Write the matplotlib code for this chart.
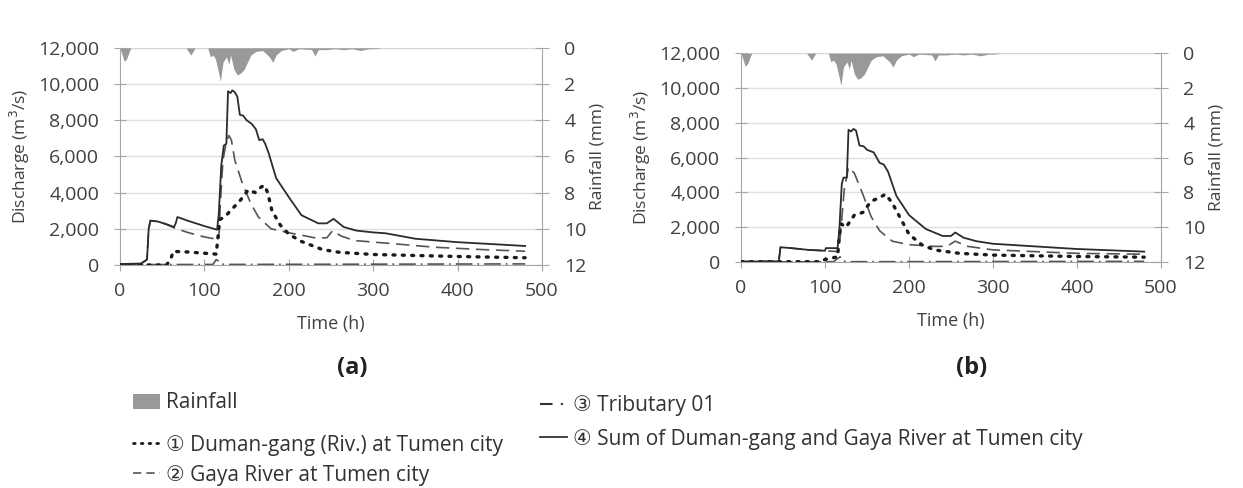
import matplotlib
matplotlib.use("Agg")
import matplotlib.pyplot as plt
from matplotlib.lines import Line2D
from matplotlib.patches import Patch

plt.rcParams["font.family"] = ["Open Sans", "DejaVu Sans"]
plt.rcParams["text.color"] = "#404040"

# rainfall (mm), same for both panels
rain_t = [0, 2, 5, 8, 11, 13, 78, 84, 89, 104, 107, 110, 113, 116, 119, 122, 126, 129, 131,
          135, 139, 143, 147, 151, 155, 161, 169, 177, 181, 185, 191, 200, 205, 212, 227, 231,
          235, 245, 255, 265, 275, 285, 295, 301, 310]
rain_mm = [0, 0.3, 0.75, 0.6, 0.2, 0, 0, 0.4, 0, 0, 0.5, 0.4, 0.6, 1.2, 1.85, 0.8, 0.5, 0.9, 0.4,
           1.2, 1.5, 1.4, 1.2, 0.8, 0.4, 0.2, 0.15, 0.5, 0.8, 0.4, 0.15, 0.05, 0.2, 0.05, 0.1, 0.45,
           0.1, 0.1, 0.05, 0.1, 0.05, 0.15, 0.05, 0.05, 0]

# (a) discharge series, m3/s
a_sum_t = [0, 25, 32, 34, 36, 45, 55, 64, 66, 68, 80, 100, 115, 117, 120, 123, 126, 128, 131, 133,
           136, 139, 142, 146, 150, 156, 161, 165, 169, 172, 176, 185, 200, 215, 235, 245, 253,
           265, 280, 300, 315, 350, 400, 450, 480]
a_sum = [50, 80, 300, 2000, 2450, 2400, 2250, 2100, 2300, 2650, 2450, 2150, 1950, 2800, 5500,
         6600, 6700, 9600, 9500, 9650, 9550, 9300, 8300, 8250, 8000, 7800, 7500, 6900, 6950, 6700,
         6200, 4800, 3750, 2750, 2300, 2300, 2550, 2100, 1900, 1800, 1750, 1450, 1260, 1130, 1050]
a_gaya_t = [0, 25, 32, 34, 36, 45, 55, 64, 80, 100, 117, 119, 122, 126, 129, 132, 136, 145, 155,
            164, 179, 198, 231, 245, 252, 262, 278, 325, 373, 430, 480]
a_gaya = [50, 80, 300, 2000, 2450, 2400, 2250, 2050, 1800, 1550, 1400, 3500, 5800, 6800, 7150,
          6900, 5800, 4500, 3400, 2650, 2000, 1800, 1500, 1500, 1900, 1600, 1350, 1170, 980, 850, 760]
a_duman_t = [0, 55, 60, 63, 80, 100, 114, 116, 118, 125, 135, 143, 152, 160, 167, 171, 175, 180,
             190, 200, 215, 240, 260, 300, 400, 480]
a_duman = [0, 0, 300, 750, 720, 650, 600, 1500, 2500, 2700, 3200, 3600, 4150, 4000, 4300, 4400,
           4000, 3000, 2200, 1700, 1300, 850, 700, 580, 470, 400]
a_trib_t = [0, 110, 114, 117, 120, 125, 480]
a_trib = [20, 30, 300, 200, 60, 30, 60]

# (b) discharge series, m3/s
b_sum_t = [0, 45, 47, 60, 80, 100, 101, 115, 117, 120, 122, 126, 128, 131, 134, 137, 141, 146,
           150, 158, 165, 170, 175, 185, 200, 220, 240, 250, 255, 265, 280, 300, 350, 400, 480]
b_sum = [30, 40, 850, 800, 700, 650, 800, 800, 1800, 4500, 4850, 4850, 7600, 7500, 7650, 7550,
         6700, 6650, 6450, 6300, 5700, 5600, 5200, 3800, 2700, 1900, 1500, 1500, 1700, 1400, 1200,
         1050, 900, 750, 600]
b_gaya_t = [0, 45, 47, 60, 80, 100, 115, 117, 120, 123, 128, 135, 145, 155, 165, 180, 200, 230,
            245, 255, 270, 300, 400, 480]
b_gaya = [30, 40, 850, 800, 700, 650, 600, 900, 2500, 4200, 5450, 5100, 3900, 2600, 1800, 1200,
          1000, 900, 900, 1200, 900, 700, 500, 450]
b_duman_t = [0, 95, 100, 110, 115, 117, 119, 125, 135, 145, 155, 165, 172, 180, 190, 200, 215,
             230, 260, 300, 400, 480]
b_duman = [20, 20, 150, 250, 300, 1500, 2200, 2000, 2700, 2850, 3500, 3700, 3900, 3400, 2500,
           1600, 1000, 700, 500, 400, 320, 280]
b_trib_t = [0, 110, 115, 118, 121, 126, 480]
b_trib = [10, 20, 200, 300, 80, 20, 40]

panels = [
    ("(a)", a_sum_t, a_sum, a_gaya_t, a_gaya, a_duman_t, a_duman, a_trib_t, a_trib),
    ("(b)", b_sum_t, b_sum, b_gaya_t, b_gaya, b_duman_t, b_duman, b_trib_t, b_trib),
]
boxes = [[120 / 1243, 0.457, 422 / 1243, 0.445], [741 / 1243, 0.463, 420 / 1243, 0.428]]

W, H = 1243, 488
fig = plt.figure(figsize=(W / 100, H / 100), dpi=100)

spine_c = "#a6a6a6"
grid_c = "#e0e0e0"
txt_c = "#404040"
dots = (0, (0.6, 2.2))
dashdot = (0, (10, 3, 1, 3))

for (lab, st, sv, gt, gv, dt, dv, tt, tv), box in zip(panels, boxes):
    ax = fig.add_axes(box)
    ax.plot(st, sv, color="#2b2b2b", lw=1.3, zorder=5)
    ax.plot(gt, gv, color="#555555", lw=1.2, ls=(0, (8, 4)), zorder=4)
    ax.plot(dt, dv, color="#1a1a1a", lw=2.4, ls=dots, dash_capstyle="round", zorder=4)
    ax.plot(tt, tv, color="#555555", lw=1.2, ls=dashdot, zorder=3)
    ax.set_xlim(0, 500)
    ax.set_ylim(0, 12000)
    ax.set_xticks(range(0, 501, 100))
    ax.set_yticks(range(0, 12001, 2000))
    ax.set_yticklabels([f"{v:,}" for v in range(0, 12001, 2000)])
    ax.yaxis.grid(True, color=grid_c, lw=1)
    ax.set_axisbelow(True)
    for s in ["top", "right"]:
        ax.spines[s].set_visible(False)
    for s in ["left", "bottom"]:
        ax.spines[s].set_color(spine_c)
    ax.tick_params(axis="both", colors=spine_c, labelcolor=txt_c, labelsize=14,
                   direction="inout", length=8)
    ax.tick_params(axis="x", pad=8)
    ax.tick_params(axis="y", pad=11)
    ax.set_xlabel("Time (h)", fontsize=13, color=txt_c, labelpad=11)
    ax.set_ylabel("Discharge (m$^3$/s)", fontsize=12.5, color=txt_c, labelpad=4)

    ax2 = ax.twinx()
    ax2.fill_between(rain_t, 0, rain_mm, color="#999999", lw=0, zorder=2)
    ax2.set_ylim(12, 0)
    ax2.set_yticks(range(0, 13, 2))
    for s in ["top", "left", "bottom"]:
        ax2.spines[s].set_visible(False)
    ax2.spines["right"].set_color(spine_c)
    ax2.tick_params(axis="y", colors=spine_c, labelcolor=txt_c, labelsize=14,
                    direction="inout", length=10, pad=11)
    ax2.set_ylabel("Rainfall (mm)", fontsize=12.5, color=txt_c, labelpad=2)
    ax2.axhline(0, color="#d0d0d0", lw=1, ls=(0, (1, 1)), zorder=1)

    cx = box[0] + box[2] * 0.55
    fig.text(cx, 1 - 368 / H, lab, ha="center", va="center", fontsize=17,
             fontweight="bold", color="#222222")

# legend, one entry per row as laid out in the source figure
leg_kw = dict(frameon=False, fontsize=15, handlelength=1.3, handletextpad=0.3,
              labelcolor="#333333", borderaxespad=0, borderpad=0, loc="center left")
entries = [
    (Patch(facecolor="#999999", edgecolor="none"), "Rainfall", 133, 403),
    (Line2D([], [], color="#1a1a1a", lw=2.0, ls=dots, dash_capstyle="round"),
     "① Duman-gang (Riv.) at Tumen city", 133, 445),
    (Line2D([], [], color="#555555", lw=1.2, ls=(0, (5, 3))), "② Gaya River at Tumen city", 133, 475),
    (Line2D([], [], color="#333333", lw=1.5, ls=(0, (6, 4, 1, 4))), "③ Tributary 01", 540, 406),
    (Line2D([], [], color="#333333", lw=1.3), "④ Sum of Duman-gang and Gaya River at Tumen city", 540, 439),
]
for h, l, x, y in entries:
    leg = fig.legend([h], [l], bbox_to_anchor=(x / W, 1 - y / H), **leg_kw)

fig.savefig("out.png", dpi=100)
